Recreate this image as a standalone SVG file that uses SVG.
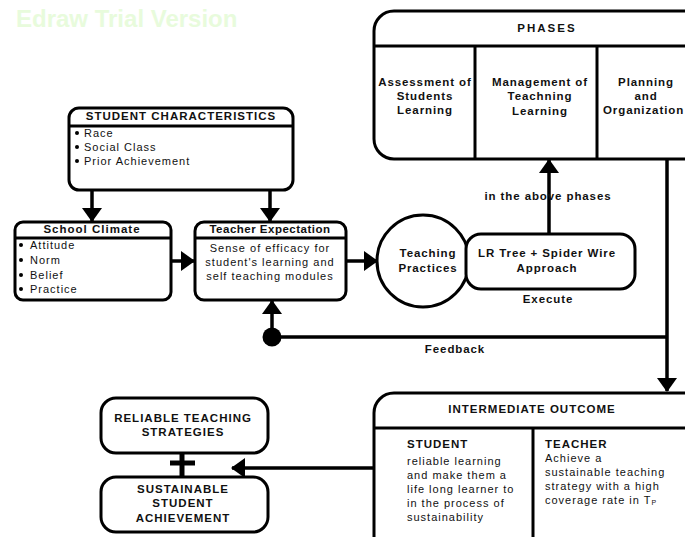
<svg xmlns="http://www.w3.org/2000/svg" width="685" height="537" viewBox="0 0 685 537">
<defs>
<style>
text{font-family:"Liberation Sans",Arial,sans-serif;fill:#111;}
.t{font-size:11.5px;font-weight:bold;letter-spacing:1px;}
.b{font-size:11px;letter-spacing:1px;}
.bb{font-size:11.5px;font-weight:bold;letter-spacing:0.9px;}
.m{text-anchor:middle;}
.box{fill:#fff;stroke:#000;stroke-width:3;}
.div{fill:none;stroke:#000;stroke-width:3;}
.c{fill:none;stroke:#000;stroke-width:3.5;}
</style>
<marker id="ah" viewBox="0 0 14 20" refX="13" refY="10" markerWidth="14" markerHeight="20" markerUnits="userSpaceOnUse" orient="auto">
<path d="M0,0 L14,10 L0,20 z" fill="#000"/>
</marker>
</defs>
<rect width="685" height="537" fill="#fff"/>
<text x="16" y="27" style="font-size:24px;font-weight:bold;fill:#e8fbdc;">Edraw Trial Version</text>

<g id="connectors">
<line class="c" x1="92" y1="190" x2="92" y2="221" marker-end="url(#ah)"/>
<line class="c" x1="270" y1="190" x2="270" y2="221" marker-end="url(#ah)"/>
<line class="c" x1="171" y1="261" x2="194" y2="261" marker-end="url(#ah)"/>
<line class="c" x1="346" y1="261" x2="377" y2="261" marker-end="url(#ah)"/>
<line class="c" x1="549" y1="233" x2="549" y2="160" marker-end="url(#ah)"/>
<line class="c" x1="667" y1="159" x2="667" y2="391" marker-end="url(#ah)"/>
<line class="c" x1="667" y1="337" x2="272" y2="337"/>
<line class="c" x1="272" y1="337" x2="272" y2="301" marker-end="url(#ah)"/>
<circle cx="272" cy="337" r="9.5" fill="#000"/>
<line class="c" x1="373" y1="468" x2="232" y2="468" marker-end="url(#ah)"/>
<line x1="182" y1="453" x2="182" y2="477" stroke="#000" stroke-width="5"/>
<line x1="170" y1="463" x2="195" y2="463" stroke="#000" stroke-width="5"/>
<text class="bb m" x="548" y="200">in the above phases</text>
<text class="bb m" x="548" y="303">Execute</text>
<text class="bb m" x="455" y="353">Feedback</text>
</g>

<g id="phases">
<rect class="box" x="374" y="11" width="330" height="148" rx="20"/>
<line class="div" x1="374" y1="46" x2="700" y2="46"/>
<line class="div" x1="475" y1="46" x2="475" y2="159"/>
<line class="div" x1="597" y1="46" x2="597" y2="159"/>
<text class="t m" x="547" y="32" style="letter-spacing:2px">PHASES</text>
<text class="bb m" x="425" y="86">Assessment of</text>
<text class="bb m" x="425" y="100">Students</text>
<text class="bb m" x="425" y="114">Learning</text>
<text class="bb m" x="540" y="86">Management of</text>
<text class="bb m" x="540" y="100">Teachning</text>
<text class="bb m" x="540" y="115">Learning</text>
<text class="bb m" x="646" y="86">Planning</text>
<text class="bb m" x="646" y="100">and</text>
<text class="bb" x="603" y="114">Organization</text>
</g>

<g id="student-characteristics">
<rect class="box" x="69" y="108" width="224" height="82" rx="10"/>
<line class="div" x1="69" y1="126" x2="293" y2="126"/>
<text class="t m" x="181" y="120">STUDENT CHARACTERISTICS</text>
<circle cx="77" cy="133" r="2"/><circle cx="77" cy="147" r="2"/><circle cx="77" cy="161" r="2"/>
<text class="b" x="84" y="137">Race</text>
<text class="b" x="84" y="151">Social Class</text>
<text class="b" x="84" y="165">Prior Achievement</text>
</g>

<g id="school-climate">
<rect class="box" x="15" y="222" width="156" height="78" rx="8"/>
<line class="div" x1="15" y1="238" x2="171" y2="238"/>
<text class="t m" x="92" y="233">School Climate</text>
<circle cx="21" cy="245" r="2"/><circle cx="21" cy="260" r="2"/><circle cx="21" cy="275" r="2"/><circle cx="21" cy="289" r="2"/>
<text class="b" x="30" y="249">Attitude</text>
<text class="b" x="30" y="264">Norm</text>
<text class="b" x="30" y="279">Belief</text>
<text class="b" x="30" y="293">Practice</text>
</g>

<g id="teacher-expectation">
<rect class="box" x="195" y="222" width="151" height="78" rx="9"/>
<line class="div" x1="195" y1="238" x2="346" y2="238"/>
<text class="t m" x="270" y="233" style="letter-spacing:0.5px">Teacher Expectation</text>
<text class="b m" x="270" y="252">Sense of efficacy for</text>
<text class="b m" x="270" y="266">student's learning and</text>
<text class="b m" x="270" y="280">self teaching modules</text>
</g>

<g id="teaching-practices">
<circle class="box" cx="423" cy="261" r="46"/>
<text class="bb m" x="428" y="257">Teaching</text>
<text class="bb m" x="428" y="272">Practices</text>
</g>

<g id="lr-tree">
<rect class="box" x="466" y="234" width="169" height="55" rx="15"/>
<text class="bb m" x="547" y="257">LR Tree + Spider Wire</text>
<text class="bb m" x="547" y="272">Approach</text>
</g>

<g id="intermediate-outcome">
<rect class="box" x="374" y="393" width="330" height="170" rx="20"/>
<line class="div" x1="374" y1="428" x2="700" y2="428"/>
<line class="div" x1="533" y1="428" x2="533" y2="540"/>
<text class="t m" x="532" y="413">INTERMEDIATE OUTCOME</text>
<text class="t" x="407" y="448">STUDENT</text>
<text class="b" x="407" y="465">reliable learning</text>
<text class="b" x="407" y="479">and make them a</text>
<text class="b" x="407" y="493">life long learner to</text>
<text class="b" x="407" y="507">in the process of</text>
<text class="b" x="407" y="521">sustainability</text>
<text class="t" x="545" y="448">TEACHER</text>
<text class="b" x="545" y="462">Achieve a</text>
<text class="b" x="545" y="476">sustainable teaching</text>
<text class="b" x="545" y="490">strategy with a high</text>
<text class="b" x="545" y="504">coverage rate in T<tspan style="font-size:7px" dy="1">P</tspan></text>
</g>

<g id="reliable-teaching">
<rect class="box" x="101" y="398" width="167" height="55" rx="15"/>
<text class="t m" x="183" y="422">RELIABLE TEACHING</text>
<text class="t m" x="183" y="436">STRATEGIES</text>
</g>

<g id="sustainable-achievement">
<rect class="box" x="101" y="477" width="167" height="55" rx="15"/>
<text class="t m" x="183" y="493">SUSTAINABLE</text>
<text class="t m" x="183" y="507">STUDENT</text>
<text class="t m" x="183" y="522">ACHIEVEMENT</text>
</g>
</svg>
